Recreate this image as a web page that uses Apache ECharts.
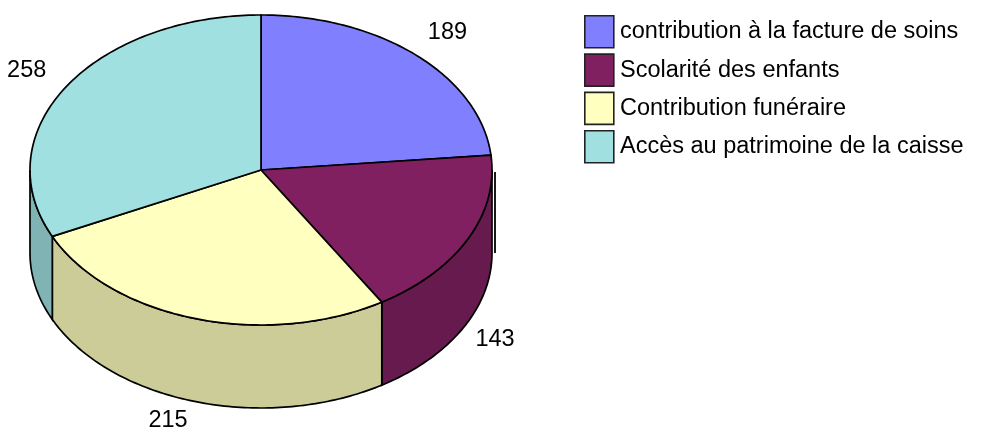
<!DOCTYPE html>
<html><head><meta charset="utf-8">
<script src="https://cdn.jsdelivr.net/npm/echarts@6/dist/echarts.min.js"></script>
<style>html,body{margin:0;padding:0;background:#fff}#c{width:983px;height:433px}</style>
</head><body><div id="c"></div>
<script>
const categories = ['contribution à la facture de soins','Scolarité des enfants','Contribution funéraire','Accès au patrimoine de la caisse'];
const values = [189,143,215,258];
const topColors = ['#8080FF','#802060','#FFFFC0','#A0E0E0'];
const sideColors = ['#6A6AD4','#661A4D','#CCCC99','#80B3B3'];

const FONT = '"Liberation Sans", Arial, sans-serif';
const CX = 261, CY = 170, RX = 231, RY = 155, DEPTH = 83;
const total = values.reduce((a,b)=>a+b,0);
const starts = [];
{ let c = 0; values.forEach(v => { starts.push(90 - 360*c/total); c += v; }); }

function pt(deg, dy){ const r = deg*Math.PI/180; return [CX + RX*Math.cos(r), CY - RY*Math.sin(r) + (dy||0)]; }
function arc(a, b, dy){ const n = Math.max(2, Math.ceil(Math.abs(a-b)/1)); const out=[]; for(let i=0;i<=n;i++){ out.push(pt(a+(b-a)*i/n, dy)); } return out; }

function renderItem(params, api){
  const i = params.dataIndex;
  const v = api.value(0);
  const s = starts[i], e = s - 360*v/total;
  const children = [];
  const a = Math.min(s, 0), b = Math.max(e, -180);
  if (a > b) {
    const top = arc(a, b, 0), bot = arc(b, a, DEPTH);
    children.push({type:'polygon', shape:{points: top.concat(bot)}, style:{fill: sideColors[i], stroke:'#000', lineWidth:1.7}});
    if (a === 0) {
      children.push({type:'line', shape:{x1:CX+RX+3, y1:CY+2, x2:CX+RX+3, y2:CY+DEPTH}, style:{stroke:'#000', lineWidth:1.8}});
    }
  }
  const pts = [[CX, CY]].concat(arc(s, e, 0));
  children.push({type:'polygon', shape:{points: pts}, style:{fill: topColors[i], stroke:'#000', lineWidth:1.7}});
  const m = (s+e)/2, mr = m*Math.PI/180, sn = Math.sin(mr);
  let lx = CX + 1.2*RX*Math.cos(mr);
  let ly = CY - 1.2*RY*sn;
  if (sn < 0) { ly += DEPTH*(1.2 + 0.35*sn); lx -= 14; }
  children.push({type:'text', style:{text: String(values[i]), x: lx, y: ly, align:'center', verticalAlign:'middle', font: '23.5px ' + FONT, fill:'#000'}});
  return {type:'group', children};
}

const legend = [];
categories.forEach((c, i) => {
  const y = 15 + i*38.3;
  legend.push({type:'rect', left:584, top:y, shape:{width:29, height:32}, style:{fill: topColors[i], stroke:'#222', lineWidth:1.6}});
  legend.push({type:'text', x:620, y:y+17, style:{text:c, font:'23.5px ' + FONT, fill:'#000', verticalAlign:'middle'}});
});

const chart = echarts.init(document.getElementById('c'), null, {renderer:'canvas'});
chart.setOption({
  animation:false,
  backgroundColor:'#fff',
  graphic: legend,
  series:[{type:'custom', coordinateSystem:'none', renderItem, data: values.map((v,i)=>({name:categories[i], value:[v]}))}]
});
</script></body></html>
